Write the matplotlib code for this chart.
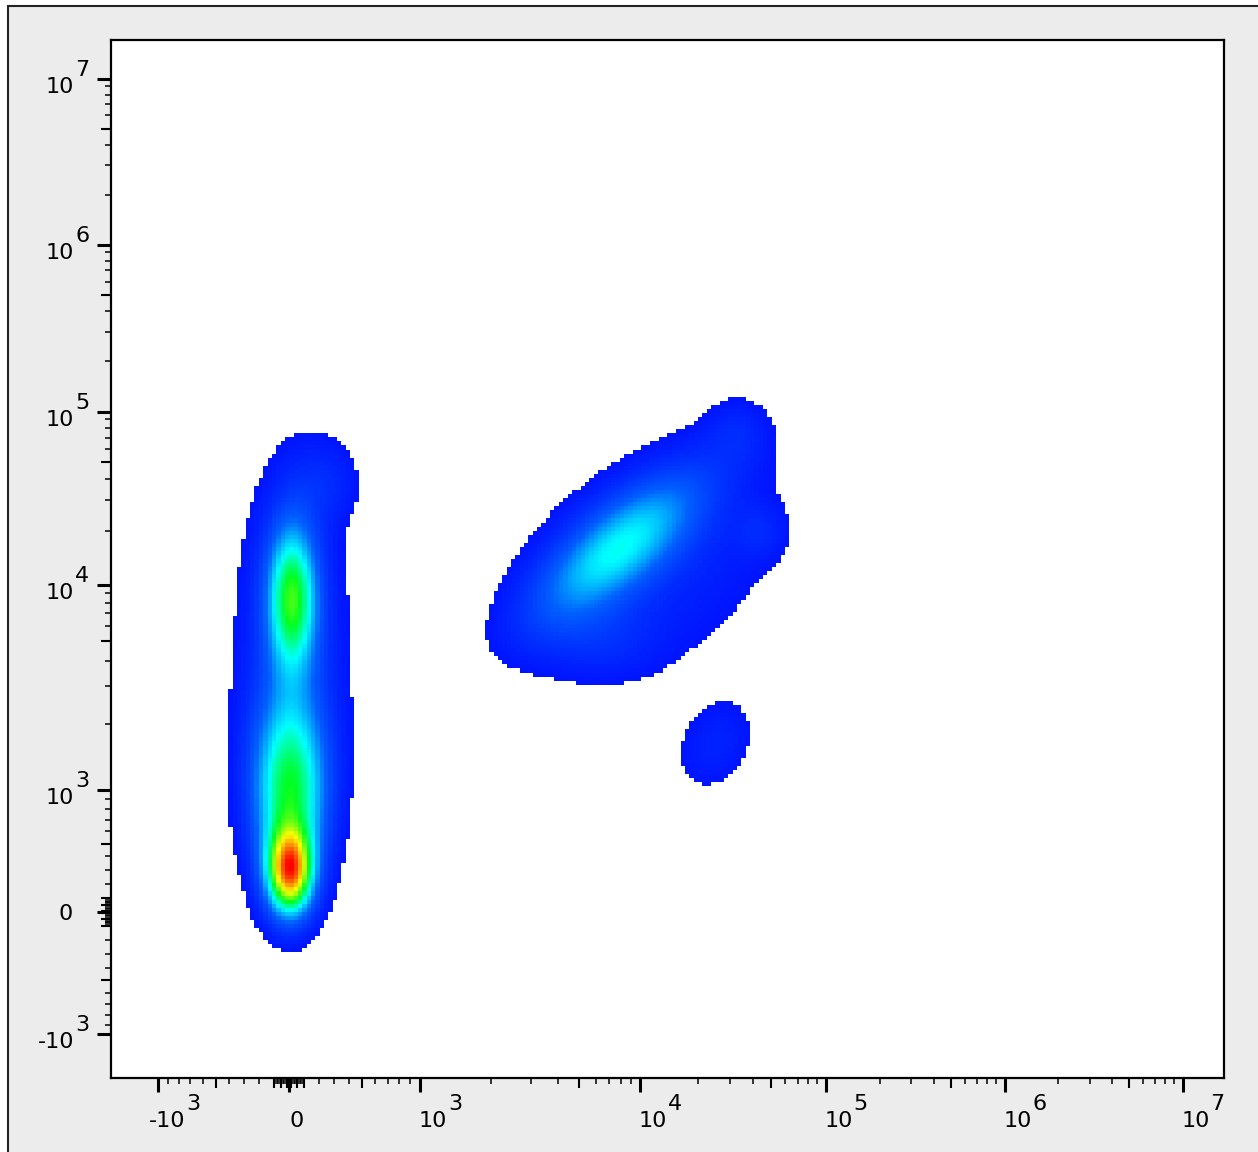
import numpy as np
import matplotlib
matplotlib.use("Agg")
import matplotlib.pyplot as plt
from matplotlib.colors import LinearSegmentedColormap
from matplotlib.patches import Rectangle

# logicle style axis (same on x and y)
K = 95.43
P = 4.3
U_MIN, U_MAX = -1.0, 5.2528
NBINS = 256
THRESH = 0.035

# cell populations: centre (data units), spread (decades), correlation, peak weight
pop_x = [5, 5, 20, 20, 240, 7660, 12670, 32960, 43500, 6300, 25000]
pop_y = [290, 990, 8500, 4470, 38900, 15800, 13510, 76750, 20000, 5000, 1590]
pop_sx = [0.085, 0.140, 0.095, 0.213, 0.140, 0.318, 0.512, 0.130, 0.090, 0.225, 0.169]
pop_sy = [0.170, 0.380, 0.300, 0.750, 0.181, 0.300, 0.489, 0.150, 0.110, 0.150, 0.210]
pop_rho = [0, 0, 0, 0, 0, 0.72, 0.32, 0, 0, 0, 0.3]
pop_amp = [0.72, 0.45, 0.46, 0.10, 0.06, 0.31, 0.07, 0.05, 0.045, 0.05, 0.06]

# axis ticks
major_vals = [-1e3, 0, 1e3, 1e4, 1e5, 1e6, 1e7]
major_base = ["-10", "0", "10", "10", "10", "10", "10"]
major_exp = ["3", "", "3", "4", "5", "6", "7"]
FS = 16


def biex(u):
    u = np.asarray(u, dtype=float)
    a = np.abs(u)
    s = K * (10 ** a - P ** 2 * 10 ** (-a / P) + P ** 2 - 1)
    return np.sign(u) * s


u_grid = np.linspace(-3, 8, 20001)
s_grid = biex(u_grid)


def forward(v):
    return np.interp(np.asarray(v, dtype=float), s_grid, u_grid)


def inverse(u):
    return biex(u)


# density on the display grid
edges = np.linspace(U_MIN, U_MAX, NBINS + 1)
cen = 0.5 * (edges[1:] + edges[:-1])
UX, UY = np.meshgrid(cen, cen)
dens = np.zeros_like(UX)
for cx, cy, sx, sy, r, a in zip(forward(pop_x), forward(pop_y), pop_sx, pop_sy, pop_rho, pop_amp):
    dx = (UX - cx) / sx
    dy = (UY - cy) / sy
    q = (dx ** 2 - 2 * r * dx * dy + dy ** 2) / (1 - r ** 2)
    dens += a * np.exp(-0.5 * q)
dens = dens / dens.max()
dens = np.ma.masked_less(dens, THRESH)

cmap = LinearSegmentedColormap.from_list("dens", [
    (0.0, "#0014ff"), (0.18, "#0060ff"), (0.36, "#00ffff"), (0.52, "#00ff20"),
    (0.72, "#ffff00"), (0.86, "#ff8000"), (1.0, "#ff0000")])

fig = plt.figure(figsize=(12.58, 11.52), dpi=100, facecolor="white")
fig.patches.append(Rectangle((8 / 1258, -0.01), 1.0, 1 - 6 / 1152 + 0.01,
                             transform=fig.transFigure, facecolor="#ececec",
                             edgecolor="#222222", lw=1.5, zorder=-10))
ax = fig.add_axes([111 / 1258, 1 - 1078 / 1152, 1113 / 1258, 1038 / 1152])
ax.set_xscale("function", functions=(forward, inverse))
ax.set_yscale("function", functions=(forward, inverse))

xe = biex(edges)
ax.pcolormesh(xe, xe, dens, cmap=cmap, vmin=THRESH, vmax=1.0, shading="flat")

lo, hi = biex(U_MIN), biex(U_MAX)
ax.set_xlim(lo, hi)
ax.set_ylim(lo, hi)

for s in ax.spines.values():
    s.set_linewidth(1.6)

# minor / medium ticks
minor_vals = []
medium = []
for k in range(1, 7):
    for m in range(1, 10):
        for sign in (1, -1):
            v = sign * m * 10 ** k
            if v in major_vals or v < lo or v > hi:
                continue
            minor_vals.append(v)
            medium.append(m == 5 or m == 1)
order = np.argsort(minor_vals)
minor_vals = [minor_vals[i] for i in order]
medium = [medium[i] for i in order]

for axis in (ax.xaxis, ax.yaxis):
    axis.set_ticks(major_vals)
    axis.set_ticks(minor_vals, minor=True)
    axis.set_ticklabels([])
ax.tick_params(which="major", direction="out", length=10, width=2.2,
               top=False, right=False, labelbottom=False, labelleft=False)
ax.tick_params(which="minor", direction="out", length=4.3, width=1.1,
               top=False, right=False)

for axis in (ax.xaxis, ax.yaxis):
    locs = list(axis.get_minorticklocs())
    ticks = axis.get_minor_ticks(len(locs))
    for t, v in zip(ticks, locs):
        if medium[minor_vals.index(v)]:
            t.tick1line.set_markersize(7.2)
            t.tick1line.set_markeredgewidth(1.5)

# tick labels: "10" with a full size raised exponent
for v, b, e in zip(major_vals, major_base, major_exp):
    if e == "":
        ax.annotate(b, xy=(v, 0), xycoords=("data", "axes fraction"), xytext=(8, -43),
                    textcoords="offset pixels", ha="center", va="center", fontsize=FS)
        ax.annotate(b, xy=(0, v), xycoords=("axes fraction", "data"), xytext=(-38, -2),
                    textcoords="offset pixels", ha="right", va="center", fontsize=FS)
        continue
    ax.annotate(b, xy=(v, 0), xycoords=("data", "axes fraction"), xytext=(27, -43),
                textcoords="offset pixels", ha="right", va="center", fontsize=FS)
    ax.annotate(e, xy=(v, 0), xycoords=("data", "axes fraction"), xytext=(28, -26),
                textcoords="offset pixels", ha="left", va="center", fontsize=FS)
    ax.annotate(b, xy=(0, v), xycoords=("axes fraction", "data"), xytext=(-37, -8),
                textcoords="offset pixels", ha="right", va="center", fontsize=FS)
    ax.annotate(e, xy=(0, v), xycoords=("axes fraction", "data"), xytext=(-36, 9),
                textcoords="offset pixels", ha="left", va="center", fontsize=FS)

fig.savefig("out.png", dpi=100, facecolor=fig.get_facecolor())
